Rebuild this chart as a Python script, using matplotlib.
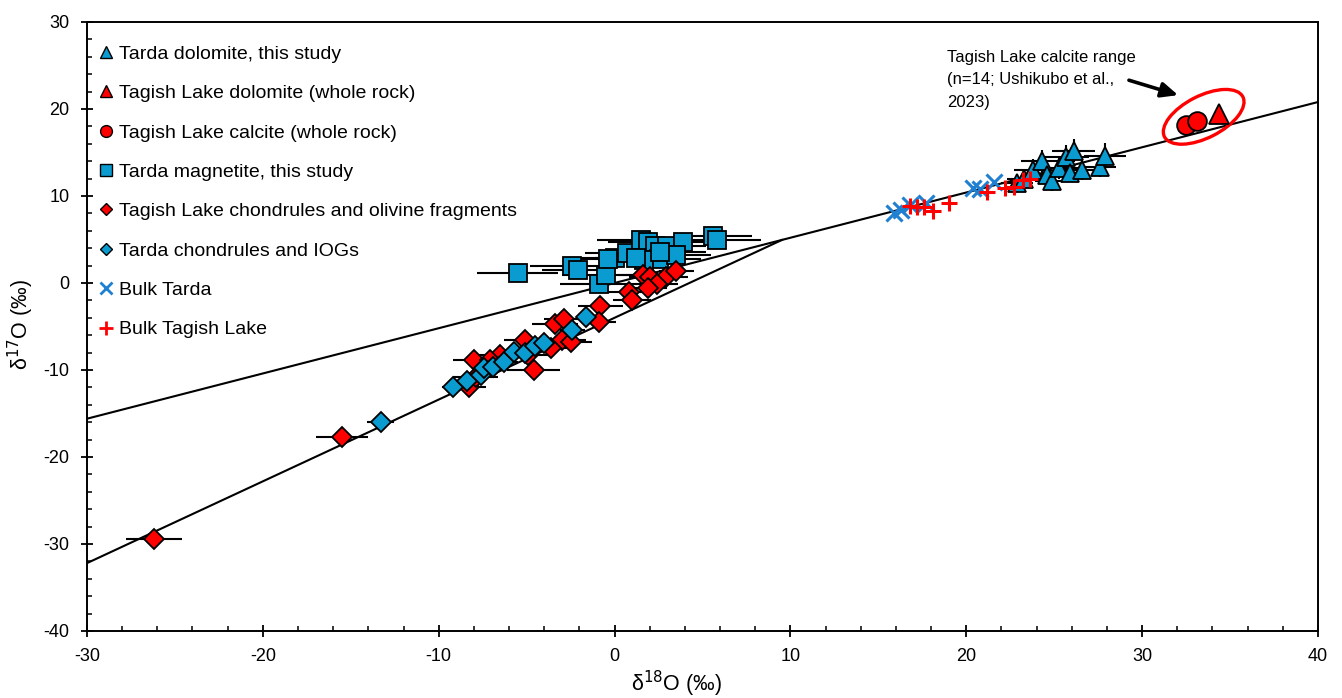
import matplotlib
matplotlib.use("Agg")
import matplotlib.pyplot as plt
from matplotlib.lines import Line2D
from matplotlib.patches import Ellipse
from matplotlib.transforms import ScaledTranslation
from matplotlib.ticker import MultipleLocator

plt.rcParams['font.family'] = ['Liberation Sans', 'DejaVu Sans']
plt.rcParams['axes.unicode_minus'] = False

BLUE = '#0a9bd0'
XBLUE = '#1f7fd0'
RED = '#ff0000'

# reference lines (d17O = slope * d18O + intercept)
tfl_slope, tfl_intercept = 0.52, 0.0
ccam_slope, ccam_intercept = 0.94, -4.0

# Tarda dolomite, this study
tdol_x = [22.9, 23.3, 23.8, 24.3, 24.6, 24.9, 25.3, 25.7, 25.9, 26.1, 26.6, 27.6, 27.9]
tdol_y = [11.5, 12.0, 13.0, 14.0, 12.4, 11.7, 13.2, 14.5, 12.6, 15.2, 13.0, 13.3, 14.6]
tdol_xerr = [0.9, 1.0, 1.1, 1.2, 0.9, 1.0, 1.1, 1.3, 1.0, 1.2, 1.1, 0.9, 1.2]
tdol_yerr = [0.8, 0.9, 1.2, 1.3, 1.0, 1.1, 1.2, 1.4, 1.0, 1.3, 1.2, 1.1, 1.5]

# Tagish Lake dolomite / calcite (whole rock)
tldol_x = [34.4]
tldol_y = [19.4]
tlcal_x = [32.5, 33.1]
tlcal_y = [18.2, 18.6]

# Tarda magnetite, this study
mag_x = [-5.5, -2.4, -2.1, -0.9, -0.5, 0.0, -0.4, 0.7, 1.5, 1.9, 2.3, 3.0, 2.5, 1.7, 3.9, 3.5, 5.6, 5.8, 2.6, 1.2]
mag_y = [1.1, 1.9, 1.5, -0.1, 0.9, 2.9, 2.8, 3.4, 4.9, 4.7, 4.2, 4.3, 2.8, 2.6, 4.7, 3.2, 5.4, 4.9, 3.6, 2.9]
mag_xerr = [2.3, 2.4, 2.0, 2.2, 2.5, 2.6, 2.1, 2.4, 2.5, 2.3, 2.0, 2.2, 2.4, 2.1, 2.3, 2.0, 2.2, 2.5, 2.6, 2.3]
mag_yerr = [0.6, 0.6, 0.7, 0.6, 0.5, 0.6, 0.6, 0.7, 0.5, 0.6, 0.6, 0.5, 0.7, 0.6, 0.6, 0.5, 0.6, 0.6, 0.5, 0.6]

# Tagish Lake chondrules and olivine fragments
tlch_x = [-26.2, -15.5, -8.0, -8.3, -7.9, -4.6, -5.1, -3.4, -2.9, -3.0, -2.5, -3.6, -4.9,
          -6.5, -7.1, -0.8, -0.9, 0.8, 1.0, 1.6, 2.0, 2.9, 3.5, 2.4, 1.9]
tlch_y = [-29.4, -17.7, -8.9, -12.0, -10.8, -10.0, -6.6, -4.7, -4.1, -6.5, -6.8, -7.5, -8.3,
          -8.3, -8.9, -2.6, -4.5, -1.0, -2.0, 0.9, 0.7, 0.7, 1.4, -0.1, -0.6]
tlch_xerr = [1.6, 1.5, 1.2, 1.0, 1.3, 1.5, 1.2, 1.3, 1.1, 1.4, 1.2, 1.0, 1.3,
             1.2, 1.1, 1.3, 1.0, 1.2, 1.1, 1.4, 1.2, 1.3, 1.0, 1.2, 1.1]
tlch_yerr = [0.9, 0.8, 0.6, 0.9, 0.7, 0.6, 0.7, 0.6, 0.6, 0.7, 0.6, 0.6, 0.7,
             0.6, 0.6, 0.6, 0.6, 0.7, 0.6, 0.6, 0.7, 0.6, 0.6, 0.7, 0.6]

# Tarda chondrules and IOGs
tch_x = [-13.3, -9.2, -8.4, -7.6, -7.4, -6.9, -6.3, -5.7, -5.1, -4.5, -4.0, -2.4, -1.6]
tch_y = [-16.0, -11.9, -11.3, -10.6, -9.8, -9.7, -9.1, -7.9, -8.1, -7.2, -6.9, -5.4, -3.9]
tch_xerr = [0.75, 0.6, 0.7, 0.8, 0.6, 0.7, 0.8, 0.6, 0.7, 0.8, 0.6, 0.7, 0.6]
tch_yerr = [0.4, 0.4, 0.4, 0.5, 0.4, 0.4, 0.5, 0.4, 0.4, 0.5, 0.4, 0.4, 0.4]

# bulk compositions
bt_x = [15.9, 16.3, 16.8, 17.7, 20.4, 20.8, 21.6]
bt_y = [8.0, 8.4, 9.0, 9.2, 10.9, 10.8, 11.6]
btl_x = [16.8, 17.2, 17.6, 18.1, 19.0, 21.2, 22.2, 22.7, 23.2, 23.6]
btl_y = [8.8, 8.7, 8.7, 8.3, 9.2, 10.5, 10.9, 11.0, 11.8, 12.0]

fig = plt.figure(figsize=(13.42, 6.98), dpi=100)
ax = fig.add_axes([0.0648, 0.096, 0.9173, 0.8725])
xmin, xmax = -30, 40
ax.set_xlim(xmin, xmax)
ax.set_ylim(-40, 30)

# TFL over the full range, CCAM up to where it meets the TFL
x_meet = (tfl_intercept - ccam_intercept) / (ccam_slope - tfl_slope)
ax.plot([xmin, xmax], [tfl_slope * xmin + tfl_intercept, tfl_slope * xmax + tfl_intercept],
        color='black', lw=1.5, zorder=1)
ax.plot([xmin, x_meet], [ccam_slope * xmin + ccam_intercept, ccam_slope * x_meet + ccam_intercept],
        color='black', lw=1.5, zorder=1)

eb = dict(fmt='none', ecolor='black', elinewidth=1.5, capsize=0, zorder=2)
ax.errorbar(tdol_x, tdol_y, xerr=tdol_xerr, yerr=tdol_yerr, **eb)
ax.errorbar(mag_x, mag_y, xerr=mag_xerr, yerr=mag_yerr, **eb)
ax.errorbar(tlch_x, tlch_y, xerr=tlch_xerr, yerr=tlch_yerr, **eb)
ax.errorbar(tch_x, tch_y, xerr=tch_xerr, yerr=tch_yerr, **eb)

mk = dict(ls='none', mec='black', mew=1.3, zorder=3)
ax.plot(tdol_x, tdol_y, '^', ms=13, mfc=BLUE, **mk)
ax.plot(tldol_x, tldol_y, '^', ms=14, mfc=RED, **mk)
ax.plot(tlcal_x, tlcal_y, 'o', ms=13.5, mfc=RED, **mk)
ax.plot(mag_x, mag_y, 's', ms=13.5, mfc=BLUE, **mk)
ax.plot(tlch_x, tlch_y, 'D', ms=10.5, mfc=RED, **mk)
ax.plot(tch_x, tch_y, 'D', ms=10.5, mfc=BLUE, **mk)
ax.plot(bt_x, bt_y, 'x', ms=11, mew=2.2, color=XBLUE, ls='none', zorder=4)
ax.plot(btl_x, btl_y, '+', ms=12, mew=2.2, color=RED, ls='none', zorder=4)

# calcite range ellipse drawn in screen units around its centre
ell = Ellipse((0, 0), 0.88, 0.42, angle=27, fill=False, ec=RED, lw=2.4,
              transform=fig.dpi_scale_trans + ScaledTranslation(33.5, 19.1, ax.transData))
ax.add_patch(ell)
ax.annotate('', xy=(32.2, 21.5), xytext=(29.1, 23.4),
            arrowprops=dict(arrowstyle='-|>,head_length=1.0,head_width=0.45', color='black', lw=2.6))
ax.text(18.9, 26.8, 'Tagish Lake calcite range\n(n=14; Ushikubo et al.,\n2023)',
        fontsize=12, va='top', ha='left', linespacing=1.62)

# axes styling
ax.xaxis.set_major_locator(MultipleLocator(10))
ax.xaxis.set_minor_locator(MultipleLocator(2))
ax.yaxis.set_major_locator(MultipleLocator(10))
ax.yaxis.set_minor_locator(MultipleLocator(2))
ax.tick_params(which='major', direction='inout', length=9, width=1.3, labelsize=13, pad=8)
ax.tick_params(which='minor', direction='in', length=3.5, width=1.1)
for s in ax.spines.values():
    s.set_linewidth(1.4)
ax.set_xlabel('δ$^{18}$O (‰)', fontsize=15.5)
ax.set_ylabel('δ$^{17}$O (‰)', fontsize=15.5)
ax.xaxis.set_label_coords(0.479, -0.062)
ax.yaxis.set_label_coords(-0.041, 0.504)

handles = [
    Line2D([], [], marker='^', ls='none', ms=8.5, mfc=BLUE, mec='black', mew=1),
    Line2D([], [], marker='^', ls='none', ms=8.5, mfc=RED, mec='black', mew=1),
    Line2D([], [], marker='o', ls='none', ms=8.5, mfc=RED, mec='black', mew=1),
    Line2D([], [], marker='s', ls='none', ms=8, mfc=BLUE, mec='black', mew=1),
    Line2D([], [], marker='D', ls='none', ms=6.5, mfc=RED, mec='black', mew=1),
    Line2D([], [], marker='D', ls='none', ms=6.5, mfc=BLUE, mec='black', mew=1),
    Line2D([], [], marker='x', ls='none', ms=8.5, mew=2, color=XBLUE),
    Line2D([], [], marker='+', ls='none', ms=9.5, mew=2, color=RED),
]
labels = ['Tarda dolomite, this study', 'Tagish Lake dolomite (whole rock)',
          'Tagish Lake calcite (whole rock)', 'Tarda magnetite, this study',
          'Tagish Lake chondrules and olivine fragments', 'Tarda chondrules and IOGs',
          'Bulk Tarda', 'Bulk Tagish Lake']
ax.legend(handles, labels, loc='upper left', bbox_to_anchor=(0.0095, 0.962), frameon=False,
          fontsize=14, handlelength=0.8, handletextpad=0.25, labelspacing=1.12,
          borderpad=0, borderaxespad=0)

fig.savefig('out.png', dpi=100)
